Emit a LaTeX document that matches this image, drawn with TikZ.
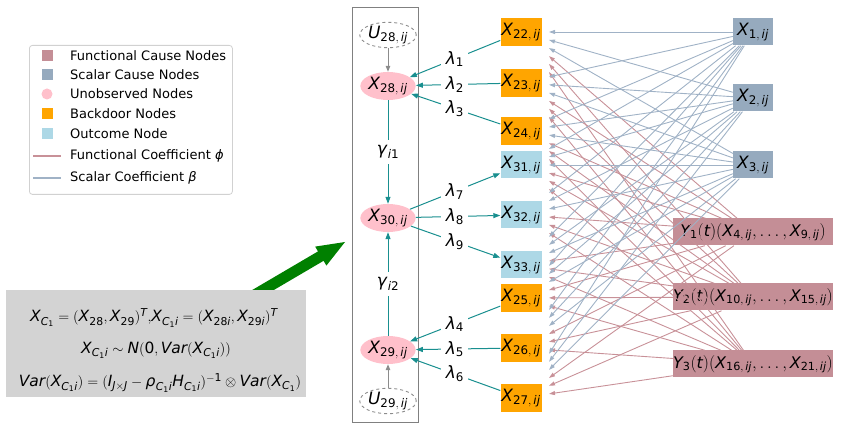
\documentclass[tikz,border=0pt]{standalone}
\usepackage{mathspec}
\setmainfont{DejaVu Sans}
\setmathsfont(Digits,Latin,Greek){DejaVu Sans}
\usetikzlibrary{arrows.meta,calc,shapes.geometric}
\definecolor{scal}{RGB}{150,170,190}
\definecolor{func}{RGB}{196,142,150}
\definecolor{scaledge}{RGB}{160,178,198}
\definecolor{funcedge}{RGB}{200,145,152}
\definecolor{bdc}{RGB}{255,165,0}
\definecolor{occ}{RGB}{173,216,230}
\definecolor{unc}{RGB}{255,192,203}
\definecolor{tealc}{RGB}{25,143,143}
\definecolor{boxgray}{RGB}{211,211,211}
\definecolor{arrgreen}{RGB}{0,128,0}
\newcommand\nodefont{\fontsize{17}{20}\selectfont}
\newcommand\yfont{\fontsize{16}{19}\selectfont}
\newcommand\legfont{\fontsize{13}{15.6}\selectfont}
\newcommand\formfont{\fontsize{15.5}{18}\selectfont}
\newcommand\ijsub[1]{#1,\,ij}
\begin{document}
\begin{tikzpicture}[x=1pt,y=-1pt,
  nf/.style={font=\nodefont},
  scalbox/.style={nf, fill=scal, minimum width=40pt, minimum height=27pt, inner sep=0.5pt},
  funcbox/.style={font=\yfont, fill=func, minimum width=160pt, minimum height=27pt, inner sep=0pt},
  bdbox/.style={nf, fill=bdc, minimum width=41pt, minimum height=28pt, inner sep=0.5pt},
  ocbox/.style={nf, fill=occ, minimum width=41pt, minimum height=27pt, inner sep=0.5pt},
  unobs/.style={nf, ellipse, fill=unc, minimum width=48pt, minimum height=28pt, inner sep=0pt},
  latent/.style={nf, ellipse, draw=black!45, dashed, line width=0.9pt, fill=white, minimum width=46pt, minimum height=23pt, inner sep=0pt},
  lab/.style={nf, fill=white, inner xsep=4pt, inner ysep=2pt},
  tarr/.style={draw=tealc, line width=1pt, -{Triangle[length=7pt,width=5pt]}},
  garr/.style={draw=black!45, line width=1pt, -{Triangle[length=6pt,width=4.5pt]}},
  sedge/.style={draw=scaledge, line width=0.9pt, -{Triangle[length=6pt,width=4pt]}},
  fedge/.style={draw=funcedge, line width=0.9pt, -{Triangle[length=6pt,width=4pt]}},
  legsq/.style={minimum size=11pt, inner sep=0pt},
  legtxt/.style={font=\legfont, anchor=west, inner sep=0pt},
]
\useasboundingbox (0,0) rectangle (841,430);

% legend
\node[draw=black!18, line width=0.8pt, rounded corners=3pt, fill=white, minimum width=203pt, minimum height=149pt, anchor=north west, inner sep=0pt] (legend) at (29,45) {};
\node[legsq, fill=func] (lg1) at (47,56) {};
\node[legtxt] (lt1) at (70,56) {Functional Cause Nodes};
\node[legsq, fill=scal] (lg2) at (47,75) {};
\node[legtxt] (lt2) at (70,75) {Scalar Cause Nodes};
\node[legsq, circle, fill=unc] (lg3) at (47,94) {};
\node[legtxt] (lt3) at (70,94) {Unobserved Nodes};
\node[legsq, fill=bdc] (lg4) at (47,114) {};
\node[legtxt] (lt4) at (70,114) {Backdoor Nodes};
\node[legsq, fill=occ] (lg5) at (47,134) {};
\node[legtxt] (lt5) at (70,134) {Outcome Node};
\coordinate (l6a) at (33,156); \coordinate (l6b) at (61,156);
\draw[funcedge, line width=1.2pt] (l6a) -- (l6b);
\node[legtxt] (lt6) at (70,156) {Functional Coefficient \textit{ϕ}};
\coordinate (l7a) at (33,178); \coordinate (l7b) at (61,178);
\draw[scaledge, line width=1.2pt] (l7a) -- (l7b);
\node[legtxt] (lt7) at (70,178) {Scalar Coefficient \textit{β}};

% green arrow
\fill[arrgreen] (247.3,292.9) -- (318.0,251.4) -- (315.2,246.6) -- (345,242) -- (326.4,265.6) -- (323.6,260.8) -- (252.9,302.3) -- cycle;

% formula box
\node[fill=boxgray, minimum width=300pt, minimum height=107pt, anchor=north west, inner sep=0pt] (fbox) at (6,290) {};
\node[font=\formfont, inner sep=0pt] (f1) at (154,318) {$X_{C_1}=(X_{28},X_{29})^T{,}X_{C_1i}=(X_{28i},X_{29i})^T$};
\node[font=\formfont, inner sep=0pt] (f2) at (156,350) {$X_{C_1i}\sim N(0,Var(X_{C_1i}))$};
\node[font=\formfont, inner sep=0pt] (f3) at (160,383) {$Var(X_{C_1i})=(I_{J\times J}-\rho_{C_1i}H_{C_1i})^{-1}\otimes Var(X_{C_1})$};

% frame
\node[draw=black!50, line width=1.2pt, minimum width=66pt, minimum height=415pt, anchor=north west, inner sep=0pt] (frame) at (352,7) {};

% unobserved column
\node[latent] (u28) at (388,35) {$U_{\ijsub{28}}$};
\node[unobs] (x28) at (388,86) {$X_{\ijsub{28}}$};
\node[unobs] (x30) at (388,218) {$X_{\ijsub{30}}$};
\node[unobs] (x29) at (388,350) {$X_{\ijsub{29}}$};
\node[latent] (u29) at (388,401) {$U_{\ijsub{29}}$};

% middle column
\node[bdbox] (x22) at (521,32) {$X_{\ijsub{22}}$};
\node[bdbox] (x23) at (521,83) {$X_{\ijsub{23}}$};
\node[bdbox] (x24) at (521,131) {$X_{\ijsub{24}}$};
\node[ocbox] (x31) at (521,165) {$X_{\ijsub{31}}$};
\node[ocbox] (x32) at (521,215) {$X_{\ijsub{32}}$};
\node[ocbox] (x33) at (521,265) {$X_{\ijsub{33}}$};
\node[bdbox] (x25) at (521,298) {$X_{\ijsub{25}}$};
\node[bdbox] (x26) at (521,348) {$X_{\ijsub{26}}$};
\node[bdbox] (x27) at (521,398) {$X_{\ijsub{27}}$};

% source column
\node[scalbox] (x1) at (753,32) {$X_{\ijsub{1}}$};
\node[scalbox] (x2) at (753,98) {$X_{\ijsub{2}}$};
\node[scalbox] (x3) at (753,165) {$X_{\ijsub{3}}$};
\node[funcbox] (y1) at (753,232) {$Y_1(t)(X_{\ijsub{4}},\ldots,X_{\ijsub{9}})$};
\node[funcbox] (y2) at (753,297) {$Y_2(t)(X_{\ijsub{10}},\ldots,X_{\ijsub{15}})$};
\node[funcbox] (y3) at (753,364) {$Y_3(t)(X_{\ijsub{16}},\ldots,X_{\ijsub{21}})$};

% source edges
\foreach \t in {x22,x23,x24,x31,x32,x33,x25,x26,x27} {
  \foreach \s in {x1,x2,x3} {
    \draw[sedge] (\s) -- ($(\t.center)!0.1207!(\s.center)$);
  }
  \foreach \s in {y1,y2,y3} {
    \draw[fedge] (\s) -- ($(\t.center)!0.1207!(\s.center)$);
  }
}

% left edges
\draw[garr] (u28) -- (x28);
\draw[garr] (u29) -- (x29);
\draw[tarr] (x28) -- (x30);
\node[lab, inner ysep=5pt] (g1) at ($(x28)!0.5!(x30)$) {$\gamma_{i1}$};
\draw[tarr] (x29) -- (x30);
\node[lab, inner ysep=5pt] (g2) at ($(x29)!0.5!(x30)$) {$\gamma_{i2}$};
\foreach \a/\b/\l in {x22/x28/1, x23/x28/2, x24/x28/3, x25/x29/4, x26/x29/5, x27/x29/6, x30/x31/7, x30/x32/8, x30/x33/9} {
  \draw[tarr] (\a) -- (\b);
  \node[lab] at ($(\a)!0.5!(\b)$) {$\lambda_{\l}$};
}
\end{tikzpicture}
\end{document}
